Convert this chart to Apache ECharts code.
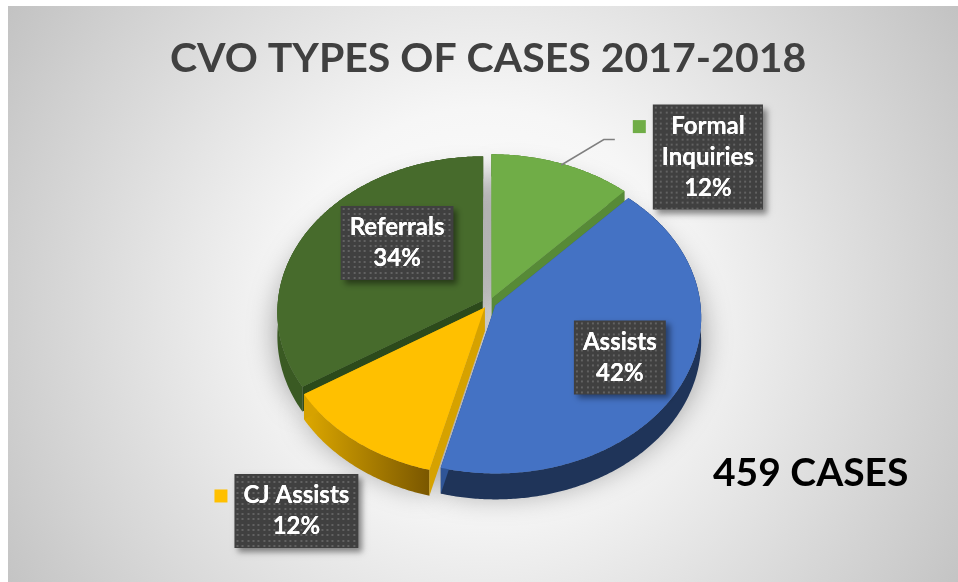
<!DOCTYPE html>
<html>
<head>
<meta charset="utf-8">
<title>CVO Types of Cases 2017-2018</title>
<script src="https://cdn.jsdelivr.net/npm/echarts@6/dist/echarts.min.js"></script>
<style>
  html, body { margin: 0; padding: 0; background: #fff; }
  #chart { position: absolute; left: 8px; top: 6px; width: 950px; height: 576px; }
</style>
</head>
<body>
<div id="chart"></div>
<script>
// data
const categories = ['Formal Inquiries', 'Assists', 'CJ Assists', 'Referrals'];
const percents = [12, 42, 12, 34];
const totalCases = 459;

// styles
const topColors = ['#70AD47', '#4472C4', '#FFC000', '#476B2C'];
const faceColors = ['#578A37', '#2F5597', '#D6A200', '#2C4A1B'];
const wallColors = [
  '#4E7D31',
  '#1F3459',
  new echarts.graphic.LinearGradient(0, 0, 1, 0, [
    { offset: 0, color: '#DDA800' }, { offset: 1, color: '#7A5700' }
  ]),
  '#3A5A23'
];
// label placement: radius (1 = rim) and angle shift from the slice middle, in degrees
const labelLayout = [
  { r: 1.53, dt: 27, key: true, leader: true },
  { r: 0.71, dt: 0 },
  { r: 1.49, dt: -1, key: true },
  { r: 0.61, dt: 12 }
];

// 3d pie geometry (chart pixels)
const PIE = { cx: 481, cy: 297, rx: 205, ry: 155, persp: 0.074, depth: 24, explode: 0.035 };
const LABEL_FONT = 'bold 24px Lato';
const LINE_H = 31, PAD_X = 9, PAD_Y = 6;

const total = percents.reduce((a, b) => a + b, 0);
const starts = [];
percents.reduce((acc, v, i) => { starts[i] = acc; return acc + v; }, 0);

function proj(X, Y, z) {
  const w = 1 / (1 - PIE.persp * Y);
  return [PIE.cx + PIE.rx * X * w, PIE.cy + (PIE.ry * Y + PIE.depth * z) * w];
}

const measureCtx = document.createElement('canvas').getContext('2d');
measureCtx.font = LABEL_FONT;

function labelText(i) {
  let name = categories[i];
  if (name.length > 12) name = name.replace(' ', '\n');
  return name + '\n' + Math.round(percents[i] / total * 100) + '%';
}

function dotPattern(w, h) {
  const c = document.createElement('canvas');
  c.width = Math.ceil(w); c.height = Math.ceil(h);
  const g = c.getContext('2d');
  g.fillStyle = 'rgba(110,110,110,0.75)';
  for (let y = 2; y < h - 1; y += 5.3) {
    for (let x = 2; x < w - 1; x += 5.3) g.fillRect(Math.round(x), Math.round(y), 2, 2);
  }
  return c;
}

// back-to-front ranking by slice middle
const depthRank = (function () {
  const mids = percents.map((v, i) => -Math.cos((starts[i] + v / 2) / total * 2 * Math.PI));
  const idx = mids.map((m, i) => i).sort((a, b) => mids[a] - mids[b]);
  const rank = [];
  idx.forEach((d, k) => { rank[d] = k; });
  return rank;
})();

function renderItem(params, api) {
  const i = params.dataIndex;
  const a0 = starts[i] / total * 2 * Math.PI;
  const a1 = (starts[i] + api.value(0)) / total * 2 * Math.PI;
  const m = (a0 + a1) / 2;
  const ex = PIE.explode * Math.sin(m), ey = -PIE.explode * Math.cos(m);
  const rim = (t, z) => proj(ex + Math.sin(t), ey - Math.cos(t), z);
  const apex = z => proj(ex, ey, z);
  const arc = z => {
    const n = Math.max(2, Math.ceil((a1 - a0) / 0.01));
    const pts = [];
    for (let k = 0; k <= n; k++) pts.push(rim(a0 + (a1 - a0) * k / n, z));
    return pts;
  };
  const topPts = [apex(0)].concat(arc(0));
  const wallPts = arc(0).concat(arc(1).reverse());
  const face = t => [apex(0), rim(t, 0), rim(t, 1), apex(1)];
  const rk = depthRank[i];

  const children = [
    { type: 'polygon', shape: { points: topPts }, z2: -20,
      style: { fill: topColors[i], shadowBlur: 30, shadowOffsetY: 20, shadowColor: 'rgba(0,0,0,0.40)' } },
    { type: 'polygon', shape: { points: wallPts }, z2: rk * 3, style: { fill: wallColors[i] } },
    { type: 'polygon', shape: { points: face(a0) }, z2: rk * 3 + 1, style: { fill: faceColors[i] } },
    { type: 'polygon', shape: { points: face(a1) }, z2: rk * 3 + 1, style: { fill: faceColors[i] } },
    { type: 'polygon', shape: { points: topPts }, z2: 50, style: { fill: topColors[i] } }
  ];

  // data label
  const lay = labelLayout[i];
  const la = m + lay.dt * Math.PI / 180;
  const c = proj(lay.r * Math.sin(la), -lay.r * Math.cos(la), 0);
  const txt = labelText(i);
  const lines = txt.split('\n');
  const boxW = Math.max.apply(null, lines.map(s => measureCtx.measureText(s).width)) + PAD_X * 2;
  const boxH = lines.length * LINE_H + PAD_Y * 2;
  const boxL = c[0] - boxW / 2, boxT = c[1] - boxH / 2;
  const textStyle = {
    text: txt, font: LABEL_FONT, fill: '#fff', align: 'center', verticalAlign: 'middle',
    lineHeight: LINE_H, padding: [PAD_Y, PAD_X]
  };
  children.push({
    type: 'text', x: c[0], y: c[1], z2: 100,
    style: Object.assign({}, textStyle, {
      backgroundColor: '#404040', shadowBlur: 6, shadowOffsetX: 4, shadowOffsetY: 4,
      shadowColor: 'rgba(0,0,0,0.45)'
    })
  });
  children.push({
    type: 'text', x: c[0], y: c[1], z2: 101,
    style: Object.assign({}, textStyle, { backgroundColor: { image: dotPattern(boxW, boxH) } })
  });
  if (lay.key) {
    children.push({
      type: 'rect', z2: 101,
      shape: { x: boxL - 20, y: boxT + PAD_Y + LINE_H / 2 - 6, width: 13, height: 13 },
      style: { fill: topColors[i] }
    });
  }
  if (lay.leader) {
    const s = proj(ex + 0.99 * Math.sin(m), ey - 0.99 * Math.cos(m), 0);
    const endX = boxL - 38, y = boxT + 35;
    children.push({
      type: 'polyline', z2: 60,
      shape: { points: [s, [endX - 11, y], [endX, y]] },
      style: { stroke: '#7F7F7F', lineWidth: 1.5, fill: null }
    });
  }
  return { type: 'group', children: children };
}

const chart = echarts.init(document.getElementById('chart'));
chart.setOption({
  animation: false,
  backgroundColor: new echarts.graphic.RadialGradient(0.5, 0.52, 0.98, [
    { offset: 0, color: '#FFFFFF' },
    { offset: 0.35, color: '#F6F6F6' },
    { offset: 1, color: '#C2C2C2' }
  ]),
  title: [
    {
      text: 'CVO TYPES OF CASES 2017-2018', left: 157, top: 27,
      textStyle: { fontFamily: 'Lato', fontWeight: 'bold', fontSize: 41, color: '#404040' }
    },
    {
      text: totalCases + ' CASES', left: 700, top: 443,
      textStyle: { fontFamily: 'Lato', fontWeight: 'bold', fontSize: 39, color: '#000' }
    }
  ],
  series: [{
    type: 'custom',
    name: 'CVO types of cases',
    coordinateSystem: 'none',
    renderItem: renderItem,
    data: percents
  }]
});
</script>
</body>
</html>
